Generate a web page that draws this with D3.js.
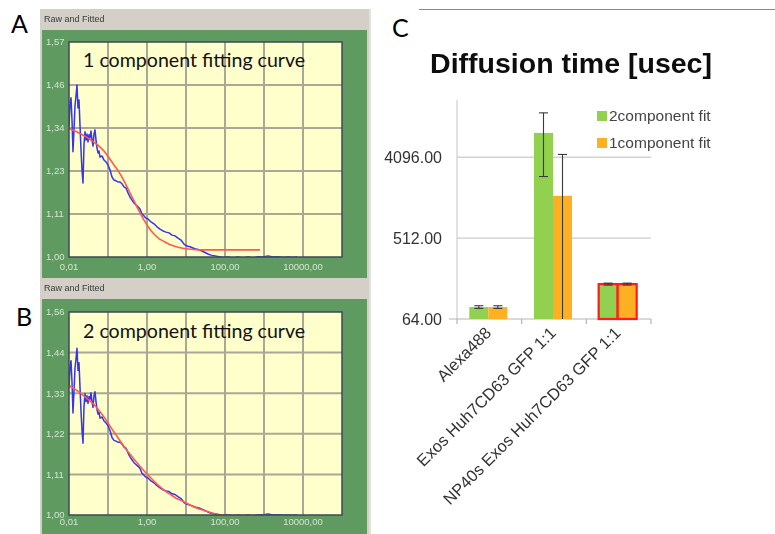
<!DOCTYPE html>
<html>
<head>
<meta charset="utf-8">
<script src="https://cdn.jsdelivr.net/npm/d3@7"></script>
<style>
  html, body { margin: 0; padding: 0; background: #fff; }
  svg { display: block; }
</style>
</head>
<body>
<svg id="fig" width="775" height="534"></svg>
<script>
// ---------- Autocorrelation data (panels A and B) ----------
// lag time (ms) and measured G(tau)
const rawTau = [0.0100,0.01061,0.01126,0.01194,0.01266,0.01343,0.01425,0.01512,0.01604,0.01701,0.01805,0.01914,0.02031,0.02154,0.02285,0.02424,0.02572,0.02728,0.02894,0.03070,0.03257,0.03455,0.03665,0.03888,0.04125,0.04375,0.04642,0.04924,0.05223,0.05541,0.05878,0.06236,
  0.07017,0.07897,0.08887,0.1000,
  0.1126,0.1266,0.1425,0.1604,0.1805,0.2031,0.2285,0.2572,0.2894,0.3257,0.3665,0.4125,0.4642,0.5223,0.5878,0.6615,0.7444,0.8377,0.9427,
  1.061,1.266,1.512,1.805,2.154,2.572,3.070,3.665,4.375,5.223,6.236,7.444,8.887,
  10.61,12.66,15.12,18.05,21.54,25.72,30.70,36.65,43.75,55.41,70.17,88.87,
  119.4,160.4,215.4,289.4,388.8,522.3,701.7,942.7,1266,1701,2285,3070,4125,5541,7017];
const rawG = [1.347,1.403,1.422,1.363,1.279,1.337,1.401,1.427,1.456,1.395,1.416,1.350,1.284,1.231,1.196,1.297,1.332,1.310,1.326,1.305,1.324,1.316,1.334,1.310,1.294,1.326,1.337,1.310,1.289,1.276,1.281,1.265,
  1.268,1.257,1.252,1.244,
  1.231,1.212,1.204,1.202,1.199,1.199,1.194,1.186,1.183,1.170,1.159,1.151,1.143,1.138,1.133,1.127,1.114,1.109,1.103,
  1.101,1.093,1.088,1.080,1.074,1.069,1.066,1.064,1.058,1.056,1.050,1.045,1.034,
  1.029,1.027,1.024,1.021,1.019,1.016,1.012,1.008,1.005,1.003,1.001,0.999,
  1.000,0.997,1.000,0.997,1.000,0.997,1.001,1.000,1.003,1.000,1.001,0.999,1.000,0.999,1.000];

// one-component model fit
const fit1Tau = [0.0100,0.01425,0.02031,0.02894,0.04125,0.05878,0.07897,0.1061,0.1425,0.1914,0.2572,0.3455,0.4642,0.6236,0.8377,1.126,1.512,2.031,2.728,3.665,4.924,6.615,11.26,20.31,41.25,789.7];
const fit1G = [1.341,1.334,1.326,1.317,1.306,1.294,1.281,1.263,1.244,1.225,1.202,1.175,1.149,1.122,1.098,1.077,1.061,1.049,1.041,1.034,1.029,1.025,1.021,1.019,1.019,1.019];

// two-component model fit
const fit2Tau = [0.0100,0.01512,0.02285,0.03257,0.04924,0.06615,0.08887,0.1194,0.1604,0.2154,0.2894,0.3888,0.5223,0.7017,0.9427,1.266,1.701,2.285,3.070,4.125,5.541,7.444,10.00,13.43,18.05,24.24,34.55,52.23,83.77,242.4,789.7];
const fit2G = [1.354,1.342,1.328,1.314,1.296,1.279,1.260,1.239,1.219,1.199,1.180,1.163,1.146,1.130,1.115,1.101,1.087,1.075,1.064,1.055,1.046,1.040,1.033,1.026,1.020,1.015,1.010,1.004,1.000,0.999,0.999];

const tauTicks = [0.01, 1, 100, 10000];
const tauTickLabels = ["0,01", "1,00", "100,00", "10000,00"];
const gTicksA = [1, 1.114, 1.228, 1.342, 1.456, 1.57];
const gTickLabelsA = ["1,00", "1,11", "1,23", "1,34", "1,46", "1,57"];
const gTicksB = [1, 1.111, 1.222, 1.333, 1.444, 1.555];
const gTickLabelsB = ["1,00", "1,11", "1,22", "1,33", "1,44", "1,56"];

// ---------- Diffusion time data (panel C) ----------
const categories = ["Alexa488", "Exos Huh7CD63 GFP 1:1", "NP40s Exos Huh7CD63 GFP 1:1"];
const seriesNames = ["2component fit", "1component fit"];
const twoCompFit = [87, 7640, 157];
const twoCompErr = [3, 5150, 4];
const oneCompFit = [87, 1517, 157];
const oneCompErr = [3, 2875, 4];
const yTicksC = [64, 512, 4096];
const highlighted = ["NP40s Exos Huh7CD63 GFP 1:1"];

// ------------------------------------------------------------
const svg = d3.select("#fig");
svg.append("rect").attr("width", 775).attr("height", 534).attr("fill", "#ffffff");

const defs = svg.append("defs");
defs.append("filter").attr("id", "soft").attr("x", "-5%").attr("y", "-5%").attr("width", "110%").attr("height", "110%")
  .append("feGaussianBlur").attr("stdDeviation", 0.55);

const letterFont = "Lato, 'Open Sans', sans-serif";

// ---------- software-window panels ----------
const win = svg.append("g").attr("filter", "url(#soft)");
win.append("rect").attr("x", 40).attr("y", 9).attr("width", 331).attr("height", 525).attr("fill", "#d4d0c8");
win.append("line").attr("x1", 370).attr("x2", 370).attr("y1", 9).attr("y2", 534).attr("stroke", "#f2f2f2").attr("stroke-width", 1);

function fcsPanel(cfg) {
  const g = win.append("g");
  g.append("text").attr("x", 44).attr("y", cfg.headerY).attr("font-family", "'Liberation Sans', Arial, sans-serif")
    .attr("font-size", 9).attr("fill", "#3a3a3a").text("Raw and Fitted");
  g.append("rect").attr("x", 42).attr("y", cfg.greenTop).attr("width", 325).attr("height", cfg.greenH).attr("fill", "#5f9a61");

  const x = d3.scaleLog().domain([0.01, 1e5]).range([69, 342]);
  const y = d3.scaleLinear().domain([1, cfg.gMax]).range([cfg.bottom, cfg.top]);

  g.append("rect").attr("x", 69).attr("y", cfg.top).attr("width", 273).attr("height", cfg.bottom - cfg.top)
    .attr("fill", "#ffffcc");

  const clipId = "clip" + cfg.id;
  defs.append("clipPath").attr("id", clipId).append("rect")
    .attr("x", 69).attr("y", cfg.top - 2).attr("width", 273).attr("height", cfg.bottom - cfg.top + 2);

  // grid
  const decades = d3.range(-1, 5).map(k => Math.pow(10, k));
  g.append("g").selectAll("line").data(decades).join("line")
    .attr("x1", d => x(d)).attr("x2", d => x(d)).attr("y1", cfg.top).attr("y2", cfg.bottom)
    .attr("stroke", "#aaa895").attr("stroke-width", 2);
  g.append("g").selectAll("line").data(cfg.gTicks.slice(1, -1)).join("line")
    .attr("x1", 69).attr("x2", 342).attr("y1", d => y(d)).attr("y2", d => y(d))
    .attr("stroke", "#aaa895").attr("stroke-width", 2);

  const plot = g.append("g").attr("clip-path", `url(#${clipId})`);
  const line = d3.line().x(d => x(d[0])).y(d => y(d[1]));
  plot.append("path").datum(d3.zip(rawTau, rawG)).attr("d", line)
    .attr("fill", "none").attr("stroke", "#3434f0").attr("stroke-width", 1.5).attr("stroke-linejoin", "round");
  plot.append("path").datum(d3.zip(cfg.fitTau, cfg.fitG)).attr("d", line.curve(d3.curveMonotoneX))
    .attr("fill", "none").attr("stroke", "#ff5a4e").attr("stroke-width", 1.6);

  g.append("rect").attr("x", 69).attr("y", cfg.top).attr("width", 273).attr("height", cfg.bottom - cfg.top)
    .attr("fill", "none").attr("stroke", "#3d4a58").attr("stroke-width", 1.5);

  // tick labels
  g.append("g").selectAll("text").data(cfg.gTicks).join("text")
    .attr("x", 46).attr("y", d => y(d)).attr("dy", "0.35em")
    .attr("font-family", "'Liberation Sans', Arial, sans-serif").attr("font-size", 9.5)
    .attr("fill", "#d3e6d1").text((d, i) => cfg.gLabels[i]);
  g.append("g").selectAll("text").data(tauTicks).join("text")
    .attr("x", d => x(d)).attr("y", cfg.xLabelY).attr("dy", "0.35em").attr("text-anchor", "middle")
    .attr("font-family", "'Liberation Sans', Arial, sans-serif").attr("font-size", 9.5)
    .attr("fill", "#d3e6d1").text((d, i) => tauTickLabels[i]);
}

fcsPanel({ id: "A", headerY: 22, greenTop: 30, greenH: 248, top: 42, bottom: 257, gMax: 1.57,
  gTicks: gTicksA, gLabels: gTickLabelsA, fitTau: fit1Tau, fitG: fit1G, xLabelY: 267 });
fcsPanel({ id: "B", headerY: 291, greenTop: 299, greenH: 235, top: 312, bottom: 515, gMax: 1.555,
  gTicks: gTicksB, gLabels: gTickLabelsB, fitTau: fit2Tau, fitG: fit2G, xLabelY: 522 });

// panel annotations
svg.append("text").attr("x", 83).attr("y", 67).attr("font-family", letterFont).attr("font-size", 19.6)
  .attr("fill", "#111").text("1 component fitting curve");
svg.append("text").attr("x", 83).attr("y", 338).attr("font-family", letterFont).attr("font-size", 19.6)
  .attr("fill", "#111").text("2 component fitting curve");
svg.append("text").attr("x", 11).attr("y", 33).attr("font-family", letterFont).attr("font-size", 25).attr("fill", "#000").text("A");
svg.append("text").attr("x", 16).attr("y", 326).attr("font-family", letterFont).attr("font-size", 25).attr("fill", "#000").text("B");
svg.append("text").attr("x", 392).attr("y", 37).attr("font-family", letterFont).attr("font-size", 25).attr("fill", "#000").text("C");

// ---------- bar chart (panel C) ----------
const chart = svg.append("g").attr("filter", "url(#soft)");
chart.append("line").attr("x1", 419).attr("x2", 775).attr("y1", 9.5).attr("y2", 9.5).attr("stroke", "#8a8a8a").attr("stroke-width", 1);

const cFont = "'Liberation Sans', Arial, sans-serif";
chart.append("text").attr("x", 571).attr("y", 73).attr("text-anchor", "middle").attr("font-family", cFont)
  .attr("font-weight", "bold").attr("font-size", 28.5).attr("fill", "#111").text("Diffusion time [usec]");

const yC = d3.scaleLog().base(2).domain([64, 17800]).range([319, 100]);
const x0 = d3.scaleBand().domain(categories).range([457, 651]);
const groupW = 38;
const x1 = d3.scaleBand().domain(seriesNames).range([0, groupW]);
const colors = { "2component fit": "#92d050", "1component fit": "#fdb022" };

// gridlines & axes
chart.append("g").selectAll("line").data(yTicksC.slice(1)).join("line")
  .attr("x1", 457).attr("x2", 651).attr("y1", d => yC(d)).attr("y2", d => yC(d))
  .attr("stroke", "#bdbdbd").attr("stroke-width", 1);
chart.append("line").attr("x1", 457).attr("x2", 457).attr("y1", 100).attr("y2", 319).attr("stroke", "#cfcfcf").attr("stroke-width", 1.2);
chart.append("line").attr("x1", 449).attr("x2", 651).attr("y1", yC(64)).attr("y2", yC(64)).attr("stroke", "#b5b5b5").attr("stroke-width", 1.2);
const tickXs = categories.map(c => x0(c)).concat([x0.range()[1]]);
chart.append("g").selectAll("line").data(tickXs).join("line")
  .attr("x1", d => d).attr("x2", d => d).attr("y1", 319).attr("y2", 324)
  .attr("stroke", "#b5b5b5").attr("stroke-width", 1.2);

chart.append("g").selectAll("text").data(yTicksC).join("text")
  .attr("x", 442).attr("y", d => yC(d)).attr("dy", "0.36em").attr("text-anchor", "end")
  .attr("font-family", cFont).attr("font-size", 16).attr("fill", "#333")
  .text(d => d3.format(".2f")(d));

// bars
const rows = [];
categories.forEach((c, i) => {
  rows.push({ cat: c, series: seriesNames[0], v: twoCompFit[i], e: twoCompErr[i] });
  rows.push({ cat: c, series: seriesNames[1], v: oneCompFit[i], e: oneCompErr[i] });
});
const gx = c => x0(c) + (x0.bandwidth() - groupW) / 2 - 1;

chart.append("g").selectAll("rect").data(rows).join("rect")
  .attr("x", d => gx(d.cat) + x1(d.series)).attr("width", x1.bandwidth())
  .attr("y", d => yC(d.v)).attr("height", d => yC(64) - yC(d.v))
  .attr("fill", d => colors[d.series])
  .attr("stroke", d => highlighted.includes(d.cat) ? "#ff1a1a" : "none")
  .attr("stroke-width", 2.2);

// error bars
const eb = chart.append("g").attr("stroke", "#3a3a3a").attr("stroke-width", 1.1);
rows.forEach(d => {
  const cx = gx(d.cat) + x1(d.series) + x1.bandwidth() / 2;
  const hi = d.v + d.e;
  const lo = d.v - d.e;
  const yLo = lo > 64 ? yC(lo) : yC(64);
  eb.append("line").attr("x1", cx).attr("x2", cx).attr("y1", yC(hi)).attr("y2", yLo);
  eb.append("line").attr("x1", cx - 4.5).attr("x2", cx + 4.5).attr("y1", yC(hi)).attr("y2", yC(hi));
  if (lo > 64) eb.append("line").attr("x1", cx - 4.5).attr("x2", cx + 4.5).attr("y1", yC(lo)).attr("y2", yC(lo));
});

// category labels
chart.append("g").selectAll("text").data(categories).join("text")
  .attr("transform", c => `translate(${x0(c) + x0.bandwidth() / 2 + 3},${334}) rotate(-45)`)
  .attr("text-anchor", "end").attr("font-family", cFont).attr("font-size", 16.5).attr("fill", "#333")
  .text(c => c);

// legend
const leg = chart.append("g").selectAll("g").data(seriesNames).join("g")
  .attr("transform", (d, i) => `translate(597,${111 + i * 27})`);
leg.append("rect").attr("width", 10).attr("height", 10).attr("fill", d => colors[d]);
leg.append("text").attr("x", 12).attr("y", 10).attr("font-family", cFont).attr("font-size", 15.5)
  .attr("fill", "#444").text(d => d);
</script>
</body>
</html>
